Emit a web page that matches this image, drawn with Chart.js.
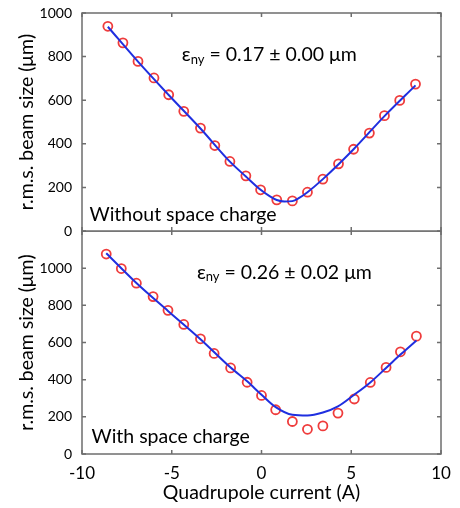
<!DOCTYPE html>
<html>
<head>
<meta charset="utf-8">
<script src="https://cdn.jsdelivr.net/npm/chart.js@4"></script>
<style>
  body { margin: 0; background: #fff; width: 460px; height: 508px; position: relative; overflow: hidden; }
  canvas { position: absolute; left: 0; }
  #top-chart { top: 0; }
  #bottom-chart { top: 231px; }
</style>
</head>
<body>
<canvas id="bottom-chart" width="460" height="277"></canvas>
<canvas id="top-chart" width="460" height="246"></canvas>
<script>
// measured points, without space charge
var currentNoSc = [-8.56, -7.72, -6.88, -5.99, -5.17, -4.33, -3.40, -2.60, -1.76, -0.87, -0.05, 0.85, 1.72, 2.56, 3.42, 4.29, 5.13, 6.01, 6.85, 7.70, 8.58]
var sizeNoSc = [939, 863, 778, 702, 625, 549, 472, 392, 319, 253, 189, 143, 138, 178, 238, 308, 375, 449, 529, 599, 674]
// fitted curve, without space charge
var fitCurrentNoSc = [-8.56, -6.88, -5.17, -3.40, -1.76, -0.87, -0.05, 0.45, 0.85, 1.28, 1.72, 2.10, 2.56, 3.42, 5.13, 6.85, 8.58]
var fitNoSc = [937, 777, 624, 470, 318, 250, 189, 160, 142, 135, 137, 152, 178, 238, 375, 527, 668]

// measured points, with space charge
var currentSc = [-8.65, -7.81, -6.97, -6.04, -5.21, -4.33, -3.40, -2.64, -1.72, -0.80, 0.00, 0.79, 1.72, 2.56, 3.42, 4.26, 5.17, 6.06, 6.94, 7.74, 8.63]
var sizeSc = [1076, 998, 919, 847, 773, 697, 620, 541, 463, 386, 315, 238, 175, 133, 151, 220, 296, 385, 466, 550, 634]
// fitted curve, with space charge
var fitCurrentSc = [-8.65, -6.97, -5.21, -3.40, -1.72, -0.80, 0.00, 0.79, 1.72, 2.56, 3.42, 4.26, 5.17, 6.06, 6.94, 7.74, 8.63]
var fitSc = [1080, 920, 770, 618, 465, 391, 319, 252, 211, 207, 223, 256, 319, 385, 463, 535, 611]

var xTicks = [-10, -5, 0, 5, 10]
var yTicksTop = [0, 200, 400, 600, 800, 1000]
var yTicksBottom = [0, 200, 400, 600, 800, 1000, 1200]

var axisColor = '#6e6e6e'
var textColor = '#000'
var fontName = 'Lato'

var toPoints = (xs, ys) => xs.map((v, i) => ({x: v, y: ys[i]}))

// box round the plot with inward tick marks, like the original
var framePlugin = {
    id: 'frame',
    beforeDatasetsDraw(chart) {
        var {ctx, chartArea: a, scales} = chart
        var x = scales.x, y = scales.y
        ctx.save()
        ctx.strokeStyle = axisColor
        ctx.lineWidth = 1.5
        ctx.strokeRect(a.left, a.top, a.right - a.left, a.bottom - a.top)
        ctx.beginPath()
        xTicks.forEach(t => {
            var px = x.getPixelForValue(t)
            ctx.moveTo(px, a.bottom); ctx.lineTo(px, a.bottom - 4)
            ctx.moveTo(px, a.top); ctx.lineTo(px, a.top + 4)
        })
        y.ticks.forEach(t => {
            var py = y.getPixelForValue(t.value)
            ctx.moveTo(a.left, py); ctx.lineTo(a.left + 4, py)
            ctx.moveTo(a.right, py); ctx.lineTo(a.right - 4, py)
        })
        ctx.stroke()
        ctx.restore()
    }
}

// text labels inside the plot, placed in data units
var labelPlugin = {
    id: 'labels',
    afterDatasetsDraw(chart, args, opts) {
        var {ctx, scales} = chart
        var x = scales.x, y = scales.y
        ctx.save()
        ctx.fillStyle = textColor
        ctx.textBaseline = 'middle'
        ctx.textAlign = 'left'

        // emittance, with subscript
        var ex = x.getPixelForValue(opts.emitAt[0])
        var ey = y.getPixelForValue(opts.emitAt[1])
        ctx.font = '19.5px ' + fontName
        ctx.fillText('ε', ex, ey)
        ex += ctx.measureText('ε').width
        ctx.font = '13px ' + fontName
        ctx.fillText('ny', ex, ey + 5)
        ex += ctx.measureText('ny').width
        ctx.font = '19.5px ' + fontName
        ctx.fillText(' = ' + opts.emitText, ex, ey)

        ctx.font = '19.5px ' + fontName
        ctx.fillText(opts.caseText, x.getPixelForValue(opts.caseAt[0]), y.getPixelForValue(opts.caseAt[1]))
        ctx.restore()
    }
}

// fixed axis width so both panels line up, and no extra padding from the labels
var fixYAxis = s => {
    s.width = 82
    s.paddingTop = 0
    s.paddingBottom = 0
}

var makeDatasets = (fx, fy, mx, my) => [
    {
        type: 'scatter',
        showLine: true,
        data: toPoints(fx, fy),
        borderColor: '#1f2fe0',
        borderWidth: 2,
        pointRadius: 0,
        cubicInterpolationMode: 'monotone',
        fill: false,
    },
    {
        type: 'scatter',
        data: toPoints(mx, my),
        borderColor: '#ef3c3c',
        backgroundColor: 'rgba(0,0,0,0)',
        borderWidth: 1.8,
        pointRadius: 4.5,
        pointStyle: 'circle',
    },
]

var yTitle = {
    display: true,
    text: 'r.m.s. beam size (μm)',
    color: textColor,
    font: {family: fontName, size: 19.5},
    padding: {top: 15, bottom: 0},
}

new Chart(document.getElementById('top-chart'), {
    type: 'scatter',
    data: {datasets: makeDatasets(fitCurrentNoSc, fitNoSc, currentNoSc, sizeNoSc)},
    options: {
        responsive: false,
        animation: false,
        layout: {autoPadding: false, padding: {top: 13, right: 19, bottom: 15, left: 0}},
        plugins: {
            legend: {display: false},
            tooltip: {enabled: false},
            labels: {
                emitAt: [-4.44, 810],
                emitText: '0.17 ± 0.00 μm',
                caseAt: [-9.58, 74],
                caseText: 'Without space charge',
            },
        },
        scales: {
            x: {
                display: false,
                min: -10, max: 10,
            },
            y: {
                min: 0, max: 1000,
                afterFit: fixYAxis,
                afterBuildTicks: s => { s.ticks = yTicksTop.map(v => ({value: v})) },
                grid: {display: false, drawTicks: false},
                border: {display: false},
                ticks: {color: textColor, padding: 10, font: {family: fontName, size: 14}, callback: v => String(v)},
                title: yTitle,
            },
        },
    },
    plugins: [framePlugin, labelPlugin],
});

new Chart(document.getElementById('bottom-chart'), {
    type: 'scatter',
    data: {datasets: makeDatasets(fitCurrentSc, fitSc, currentSc, sizeSc)},
    options: {
        responsive: false,
        animation: false,
        layout: {autoPadding: false, padding: {top: 0, right: 19, bottom: 0, left: 0}},
        plugins: {
            legend: {display: false},
            tooltip: {enabled: false},
            labels: {
                emitAt: [-3.6, 978],
                emitText: '0.26 ± 0.02 μm',
                caseAt: [-9.47, 92],
                caseText: 'With space charge',
            },
        },
        scales: {
            x: {
                min: -10, max: 10,
                afterFit: s => {
                    s.height = 54
                    s.paddingLeft = 0
                    s.paddingRight = 0
                },
                afterBuildTicks: s => { s.ticks = xTicks.map(v => ({value: v})) },
                grid: {display: false, drawTicks: false},
                border: {display: false},
                ticks: {color: textColor, padding: 9, maxRotation: 0, font: {family: fontName, size: 17}},
                title: {
                    display: true,
                    text: 'Quadrupole current (A)',
                    color: textColor,
                    font: {family: fontName, size: 19.5},
                    padding: {top: 0, bottom: 4},
                },
            },
            y: {
                min: 0, max: 1200,
                afterFit: fixYAxis,
                afterBuildTicks: s => { s.ticks = yTicksBottom.map(v => ({value: v})) },
                grid: {display: false, drawTicks: false},
                border: {display: false},
                ticks: {
                    color: textColor, padding: 10, font: {family: fontName, size: 14},
                    callback: v => v === 1200 ? '' : String(v),
                },
                title: yTitle,
            },
        },
    },
    plugins: [framePlugin, labelPlugin],
});
</script>
</body>
</html>
